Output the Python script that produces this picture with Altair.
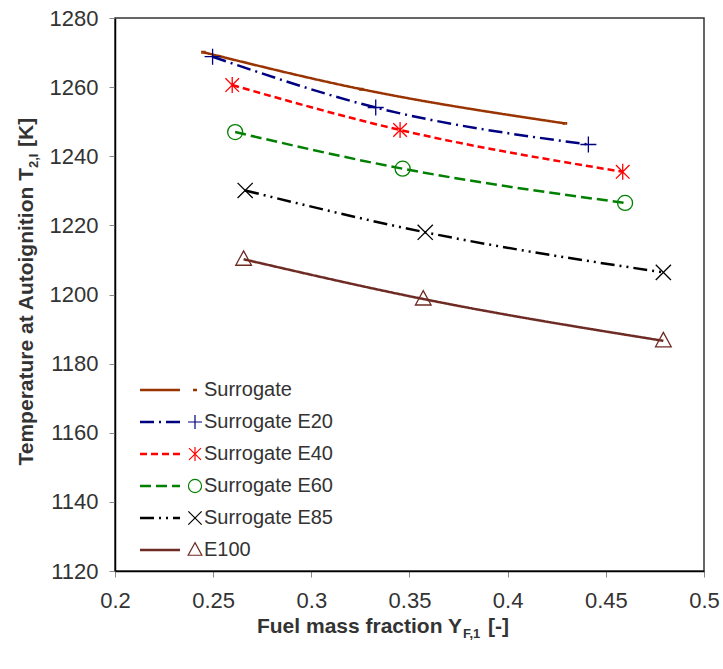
import altair as alt
import pandas as pd

# Fuel blends, in legend order
series = ["Surrogate", "Surrogate E20", "Surrogate E40", "Surrogate E60", "Surrogate E85", "E100"]

# Fuel mass fraction Y_F,1 for each blend
yf_surrogate = [0.2450, 0.3255, 0.4292]
yf_e20 = [0.2497, 0.3328, 0.4411]
yf_e40 = [0.2597, 0.3452, 0.4586]
yf_e60 = [0.2612, 0.3465, 0.4598]
yf_e85 = [0.2663, 0.3580, 0.4793]
yf_e100 = [0.2655, 0.3570, 0.4793]

# Temperature at autoignition T_2,I [K]
t_surrogate = [1270.1, 1259.4, 1249.5]
t_e20 = [1268.8, 1254.1, 1243.4]
t_e40 = [1260.6, 1247.6, 1235.5]
t_e60 = [1247.0, 1236.4, 1226.5]
t_e85 = [1230.1, 1218.0, 1206.4]
t_e100 = [1210.2, 1198.7, 1186.6]

x_ticks = [0.2, 0.25, 0.3, 0.35, 0.4, 0.45, 0.5]
y_ticks = [1120, 1140, 1160, 1180, 1200, 1220, 1240, 1260, 1280]

xs = [yf_surrogate, yf_e20, yf_e40, yf_e60, yf_e85, yf_e100]
ts = [t_surrogate, t_e20, t_e40, t_e60, t_e85, t_e100]

rows = []
for name, xv, tv in zip(series, xs, ts):
    for i, (a, b) in enumerate(zip(xv, tv)):
        rows.append({"series": name, "yf": a, "T": b, "order": i})
df = pd.DataFrame(rows)

colors = ["#993300", "#000080", "#FF0000", "#008000", "#000000", "#6E2B24"]
dashes = [[1, 0], [14, 5, 2, 5], [7, 4], [11, 5], [14, 5, 2, 5, 2, 5], [1, 0]]
shapes = [
    "M-0.2,-0.1H0.2V0.1H-0.2Z",                                   # small box
    "M-1,0H1M0,-1V1",                                              # plus
    "M0,-1V1M-0.85,-0.85L0.85,0.85M-0.85,0.85L0.85,-0.85",         # star
    "M0.94,0A0.94,0.94 0 1,1 -0.94,0A0.94,0.94 0 1,1 0.94,0Z",     # circle
    "M-0.95,-0.95L0.95,0.95M-0.95,0.95L0.95,-0.95",                # x
    "M0,-1.05L0.98,0.75L-0.98,0.75Z",                              # triangle
]

FONT = "Liberation Sans"
TXT = "#333333"

color = alt.Color("series:N", scale=alt.Scale(domain=series, range=colors), legend=None)
dash = alt.StrokeDash("series:N", scale=alt.Scale(domain=series, range=dashes), legend=None)
shape = alt.Shape("series:N", scale=alt.Scale(domain=series, range=shapes), legend=None)

x_enc = alt.X(
    "yf:Q",
    scale=alt.Scale(domain=[0.2, 0.5], nice=False, zero=False),
    axis=alt.Axis(values=x_ticks, format=".2~f", title=None, grid=False,
                  labelPadding=13, tickSize=6, labelFlush=False),
)
y_enc = alt.Y(
    "T:Q",
    scale=alt.Scale(domain=[1120, 1280], nice=False, zero=False),
    axis=alt.Axis(values=y_ticks, format="d", title=None, grid=False,
                  labelPadding=11, tickSize=6, labelFlush=False),
)

base = alt.Chart(df)
lines = base.mark_line(interpolate="monotone", strokeWidth=2.5).encode(
    x=x_enc, y=y_enc, color=color, strokeDash=dash, order="order:O"
)
points = base.mark_point(filled=False, size=256, strokeWidth=1.3, opacity=1).encode(
    x=x_enc, y=y_enc, color=color, shape=shape
)
main = alt.layer(lines, points)

# Legend drawn inside the plot, lower left
leg_df = pd.DataFrame({"series": series})
leg_y = alt.Y(
    "series:N",
    scale=alt.Scale(type="point", domain=series, range=[372, 532], padding=0),
    axis=None,
)
leg = alt.Chart(leg_df)
leg_line = leg.mark_rule(strokeWidth=2.5).encode(
    x=alt.value(25), x2=alt.value(65), y=leg_y, color=color, strokeDash=dash
)
leg_pt = leg.mark_point(filled=False, size=196, strokeWidth=1.2, opacity=1).encode(
    x=alt.value(80), y=leg_y, color=color, shape=shape
)
leg_txt = leg.mark_text(align="left", baseline="middle", font=FONT, fontSize=20, color=TXT).encode(
    x=alt.value(89), y=leg_y, text="series:N"
)
legend = alt.layer(leg_line, leg_pt, leg_txt)


def label(text, x, y, size=21, align="left", baseline="alphabetic", angle=0):
    props = dict(align=align, baseline=baseline, font=FONT, fontSize=size,
                 fontWeight="bold", color=TXT)
    if angle:
        props["angle"] = angle
    return alt.Chart(pd.DataFrame({"t": [text]})).mark_text(**props).encode(
        x=alt.value(x), y=alt.value(y), text="t:N"
    )


# Axis titles with subscripts
y_anchor = 150
y_title = [
    label("Temperature at Autoignition T", -88, y_anchor, align="right", baseline="middle", angle=270),
    label("2,I", -81, y_anchor, size=13, align="left", baseline="middle", angle=270),
    label("[K]", -88, y_anchor - 21, align="left", baseline="middle", angle=270),
]
x_anchor = 347
x_title = [
    label("Fuel mass fraction Y", x_anchor, 615, align="right"),
    label("F,1", x_anchor + 1, 620, size=13),
    label("[-]", x_anchor + 26, 615),
]

chart = (
    alt.layer(main, legend, *y_title, *x_title)
    .resolve_scale(y="independent")
    .properties(
        width=589,
        height=553,
        autosize="none",
        padding={"left": 115, "top": 18, "right": 19, "bottom": 98},
        background="white",
    )
    .configure_view(stroke="#333333", strokeWidth=1.5)
    .configure_axis(
        domainColor="#000000",
        domainWidth=1.5,
        tickColor="#888888",
        tickWidth=1,
        labelFont=FONT,
        labelFontSize=22,
        labelColor=TXT,
    )
)

chart.save("out.html", embed_options={"renderer": "svg", "actions": False})
